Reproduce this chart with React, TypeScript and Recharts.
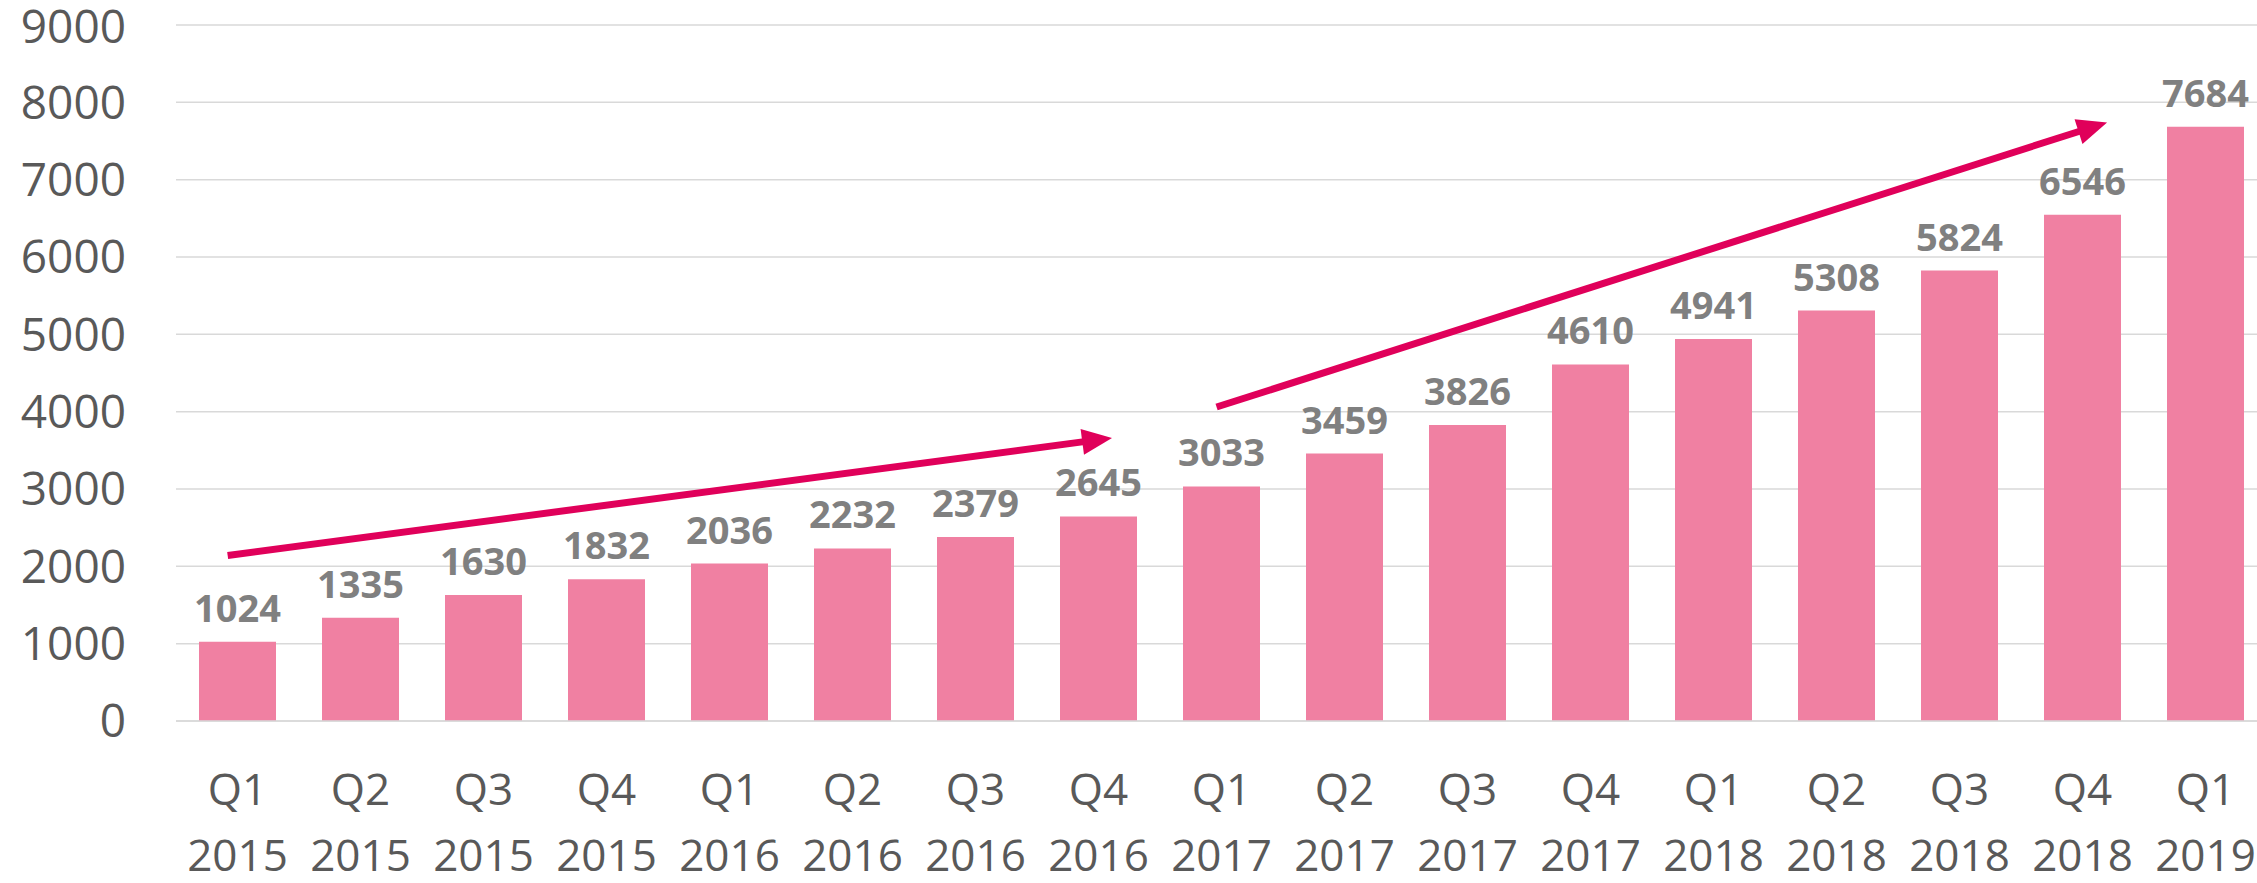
import { Bar, BarChart, CartesianGrid, LabelList, ReferenceLine, XAxis, YAxis } from "recharts";

const quarters = ["Q1", "Q2", "Q3", "Q4", "Q1", "Q2", "Q3", "Q4", "Q1", "Q2", "Q3", "Q4", "Q1", "Q2", "Q3", "Q4", "Q1"];
const years = ["2015", "2015", "2015", "2015", "2016", "2016", "2016", "2016", "2017", "2017", "2017", "2017", "2018", "2018", "2018", "2018", "2019"];
const counts = [1024, 1335, 1630, 1832, 2036, 2232, 2379, 2645, 3033, 3459, 3826, 4610, 4941, 5308, 5824, 6546, 7684];
const yTicks = [0, 1000, 2000, 3000, 4000, 5000, 6000, 7000, 8000, 9000];

// trend arrows, in (category slot, value) units: slot 0..17 spans the plot
const trendArrows = [
  [{ x: 0.42, y: 2140 }, { x: 7.61, y: 3660 }],
  [{ x: 8.46, y: 4060 }, { x: 15.7, y: 7740 }],
];

const data = counts.map((v, i) => ({ label: `${quarters[i]} ${years[i]}`, slot: i + 0.5, value: v }));

const FONT = "'Open Sans', sans-serif";
const ARROW = "#E0005A";

function QuarterTick({ x, y, index }: any) {
  return (
    <text x={x} y={y} textAnchor="middle" fill="#595959" fontSize={44} fontFamily={FONT}>
      <tspan x={x} dy={84}>{quarters[index]}</tspan>
      <tspan x={x} dy={66}>{years[index]}</tspan>
    </text>
  );
}

function Arrow({ x1, y1, x2, y2 }: any) {
  const dx = x2 - x1;
  const dy = y2 - y1;
  const len = Math.sqrt(dx * dx + dy * dy);
  const ux = dx / len;
  const uy = dy / len;
  const head = 30;
  const half = 13;
  const bx = x2 - ux * head;
  const by = y2 - uy * head;
  return (
    <g>
      <line x1={x1} y1={y1} x2={bx + ux * 2} y2={by + uy * 2} stroke={ARROW} strokeWidth={7} />
      <polygon
        points={`${x2},${y2} ${bx - uy * half},${by + ux * half} ${bx + uy * half},${by - ux * half}`}
        fill={ARROW}
      />
    </g>
  );
}

export default function App() {
  return (
    <div style={{ position: "absolute", left: 0, top: 0, width: 2257, height: 883, overflow: "hidden", background: "#fff" }}>
      <BarChart width={2270} height={883} data={data} margin={{ top: 25, right: 3, left: 0, bottom: 0 }}>
        <CartesianGrid vertical={false} stroke="#D9D9D9" strokeWidth={1.5} />
        <XAxis
          dataKey="label"
          interval={0}
          height={162}
          tickLine={false}
          tickSize={0}
          tickMargin={0}
          axisLine={{ stroke: "#D9D9D9", strokeWidth: 1.5 }}
          tick={<QuarterTick />}
        />
        <XAxis xAxisId="pos" dataKey="slot" type="number" domain={[0, 17]} allowDataOverflow hide />
        <YAxis
          width={176}
          domain={[0, 9000]}
          ticks={yTicks}
          axisLine={false}
          tickLine={false}
          tickSize={0}
          tickMargin={50}
          tick={{ fill: "#595959", fontSize: 46, fontFamily: FONT }}
        />
        <Bar dataKey="value" fill="#F080A2" barSize={77} isAnimationActive={false}>
          <LabelList dataKey="value" position="top" offset={20} fill="#808080" fontSize={38} fontWeight={700} fontFamily={FONT} />
        </Bar>
        {trendArrows.map((seg, i) => (
          <ReferenceLine key={i} xAxisId="pos" segment={seg} ifOverflow="visible" shape={<Arrow />} />
        ))}
      </BarChart>
    </div>
  );
}
